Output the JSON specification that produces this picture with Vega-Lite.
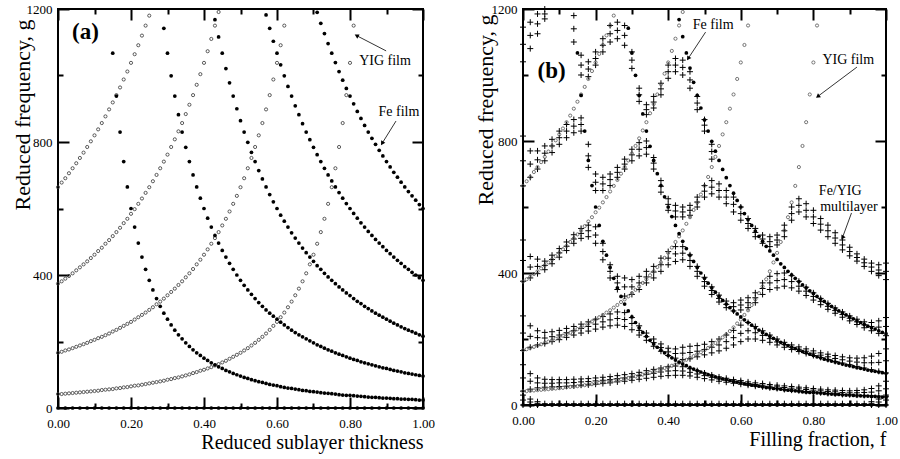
{
"$schema":"https://vega.github.io/schema/vega-lite/v6.json",
"background":"white",
"padding":{"left":9,"top":2,"right":5,"bottom":2},
"spacing":36,
"config":{
 "font":"Liberation Serif",
 "view":{"stroke":"black","strokeWidth":2},
 "axis":{"grid":false,"domain":false,"labelFont":"Liberation Serif","labelFontSize":13,"labelColor":"black","titleFont":"Liberation Serif","titleFontWeight":"normal","titleColor":"black","tickColor":"black","tickWidth":2,"labelFlush":false,"labelOverlap":false}
},
"datasets":{
"notes":[
{"p":"a","t":"(a)","x":0.075,"g":1131},
{"p":"a","t":"YIG film","x":0.896,"g":1044},
{"p":"a","t":"Fe film","x":0.934,"g":890},
{"p":"b","t":"(b)","x":0.079,"g":1012},
{"p":"b","t":"Fe film","x":0.524,"g":1151},
{"p":"b","t":"YIG film","x":0.896,"g":1045},
{"p":"b","t":"Fe/YIG","x":0.874,"g":649},
{"p":"b","t":"multilayer","x":0.898,"g":600}
],
"arrows":[
{"k":"a1","p":"a","x":0.899,"g":1074,"x2":0.818,"g2":1120},
{"k":"a2","p":"a","x":0.926,"g":863,"x2":0.888,"g2":796},
{"k":"b1","p":"b","x":0.503,"g":1130,"x2":0.455,"g2":1050},
{"k":"b2","p":"b","x":0.92,"g":1024,"x2":0.812,"g2":935},
{"k":"b3","p":"b","x":0.905,"g":582,"x2":0.88,"g2":507}
],
"films":[
{"x":0,"g":0,"s":"F0"},{"x":0.02,"g":0,"s":"F0"},{"x":0.04,"g":0,"s":"F0"},{"x":0.06,"g":0,"s":"F0"},{"x":0.08,"g":0,"s":"F0"},{"x":0.1,"g":0,"s":"F0"},{"x":0.12,"g":0,"s":"F0"},{"x":0.14,"g":0,"s":"F0"},{"x":0.16,"g":0,"s":"F0"},{"x":0.18,"g":0,"s":"F0"},{"x":0.2,"g":0,"s":"F0"},{"x":0.22,"g":0,"s":"F0"},{"x":0.24,"g":0,"s":"F0"},{"x":0.26,"g":0,"s":"F0"},{"x":0.28,"g":0,"s":"F0"},{"x":0.3,"g":0,"s":"F0"},{"x":0.32,"g":0,"s":"F0"},{"x":0.34,"g":0,"s":"F0"},{"x":0.36,"g":0,"s":"F0"},{"x":0.38,"g":0,"s":"F0"},{"x":0.4,"g":0,"s":"F0"},{"x":0.42,"g":0,"s":"F0"},{"x":0.44,"g":0,"s":"F0"},{"x":0.46,"g":0,"s":"F0"},{"x":0.48,"g":0,"s":"F0"},{"x":0.5,"g":0,"s":"F0"},{"x":0.52,"g":0,"s":"F0"},{"x":0.54,"g":0,"s":"F0"},{"x":0.56,"g":0,"s":"F0"},{"x":0.58,"g":0,"s":"F0"},{"x":0.6,"g":0,"s":"F0"},{"x":0.62,"g":0,"s":"F0"},{"x":0.64,"g":0,"s":"F0"},{"x":0.66,"g":0,"s":"F0"},{"x":0.68,"g":0,"s":"F0"},{"x":0.7,"g":0,"s":"F0"},{"x":0.72,"g":0,"s":"F0"},{"x":0.74,"g":0,"s":"F0"},{"x":0.76,"g":0,"s":"F0"},{"x":0.78,"g":0,"s":"F0"},{"x":0.8,"g":0,"s":"F0"},{"x":0.82,"g":0,"s":"F0"},{"x":0.84,"g":0,"s":"F0"},{"x":0.86,"g":0,"s":"F0"},{"x":0.88,"g":0,"s":"F0"},{"x":0.9,"g":0,"s":"F0"},{"x":0.92,"g":0,"s":"F0"},{"x":0.94,"g":0,"s":"F0"},{"x":0.96,"g":0,"s":"F0"},{"x":0.98,"g":0,"s":"F0"},{"x":1,"g":0,"s":"F0"},
{"x":0.15,"g":1067,"s":"F1"},{"x":0.16,"g":938,"s":"F1"},{"x":0.17,"g":830,"s":"F1"},{"x":0.18,"g":741,"s":"F1"},{"x":0.19,"g":665,"s":"F1"},{"x":0.2,"g":600,"s":"F1"},{"x":0.21,"g":544,"s":"F1"},{"x":0.22,"g":496,"s":"F1"},{"x":0.23,"g":454,"s":"F1"},{"x":0.24,"g":417,"s":"F1"},{"x":0.25,"g":384,"s":"F1"},{"x":0.26,"g":355,"s":"F1"},{"x":0.27,"g":329,"s":"F1"},{"x":0.28,"g":306,"s":"F1"},{"x":0.29,"g":285,"s":"F1"},{"x":0.3,"g":267,"s":"F1"},{"x":0.31,"g":250,"s":"F1"},{"x":0.32,"g":234,"s":"F1"},{"x":0.33,"g":220,"s":"F1"},{"x":0.34,"g":208,"s":"F1"},{"x":0.35,"g":196,"s":"F1"},{"x":0.36,"g":185,"s":"F1"},{"x":0.37,"g":175,"s":"F1"},{"x":0.38,"g":166,"s":"F1"},{"x":0.39,"g":158,"s":"F1"},{"x":0.4,"g":150,"s":"F1"},{"x":0.41,"g":143,"s":"F1"},{"x":0.42,"g":136,"s":"F1"},{"x":0.43,"g":130,"s":"F1"},{"x":0.44,"g":124,"s":"F1"},{"x":0.45,"g":119,"s":"F1"},{"x":0.46,"g":113,"s":"F1"},{"x":0.47,"g":109,"s":"F1"},{"x":0.48,"g":104,"s":"F1"},{"x":0.49,"g":100,"s":"F1"},{"x":0.5,"g":96,"s":"F1"},{"x":0.51,"g":92,"s":"F1"},{"x":0.52,"g":89,"s":"F1"},{"x":0.53,"g":85,"s":"F1"},{"x":0.54,"g":82,"s":"F1"},{"x":0.55,"g":79,"s":"F1"},{"x":0.56,"g":77,"s":"F1"},{"x":0.57,"g":74,"s":"F1"},{"x":0.58,"g":71,"s":"F1"},{"x":0.59,"g":69,"s":"F1"},{"x":0.6,"g":67,"s":"F1"},{"x":0.61,"g":64,"s":"F1"},{"x":0.62,"g":62,"s":"F1"},{"x":0.63,"g":60,"s":"F1"},{"x":0.64,"g":59,"s":"F1"},{"x":0.65,"g":57,"s":"F1"},{"x":0.66,"g":55,"s":"F1"},{"x":0.67,"g":53,"s":"F1"},{"x":0.68,"g":52,"s":"F1"},{"x":0.69,"g":50,"s":"F1"},{"x":0.7,"g":49,"s":"F1"},{"x":0.71,"g":48,"s":"F1"},{"x":0.72,"g":46,"s":"F1"},{"x":0.73,"g":45,"s":"F1"},{"x":0.74,"g":44,"s":"F1"},{"x":0.75,"g":43,"s":"F1"},{"x":0.76,"g":42,"s":"F1"},{"x":0.77,"g":40,"s":"F1"},{"x":0.78,"g":39,"s":"F1"},{"x":0.79,"g":38,"s":"F1"},{"x":0.8,"g":38,"s":"F1"},{"x":0.81,"g":37,"s":"F1"},{"x":0.82,"g":36,"s":"F1"},{"x":0.83,"g":35,"s":"F1"},{"x":0.84,"g":34,"s":"F1"},{"x":0.85,"g":33,"s":"F1"},{"x":0.86,"g":32,"s":"F1"},{"x":0.87,"g":32,"s":"F1"},{"x":0.88,"g":31,"s":"F1"},{"x":0.89,"g":30,"s":"F1"},{"x":0.9,"g":30,"s":"F1"},{"x":0.91,"g":29,"s":"F1"},{"x":0.92,"g":28,"s":"F1"},{"x":0.93,"g":28,"s":"F1"},{"x":0.94,"g":27,"s":"F1"},{"x":0.95,"g":27,"s":"F1"},{"x":0.96,"g":26,"s":"F1"},{"x":0.97,"g":26,"s":"F1"},{"x":0.98,"g":25,"s":"F1"},{"x":0.99,"g":24,"s":"F1"},{"x":1,"g":24,"s":"F1"},
{"x":0.29,"g":1142,"s":"F2"},{"x":0.3,"g":1067,"s":"F2"},{"x":0.31,"g":999,"s":"F2"},{"x":0.32,"g":938,"s":"F2"},{"x":0.33,"g":882,"s":"F2"},{"x":0.34,"g":830,"s":"F2"},{"x":0.35,"g":784,"s":"F2"},{"x":0.36,"g":741,"s":"F2"},{"x":0.37,"g":701,"s":"F2"},{"x":0.38,"g":665,"s":"F2"},{"x":0.39,"g":631,"s":"F2"},{"x":0.4,"g":600,"s":"F2"},{"x":0.41,"g":571,"s":"F2"},{"x":0.42,"g":544,"s":"F2"},{"x":0.43,"g":519,"s":"F2"},{"x":0.44,"g":496,"s":"F2"},{"x":0.45,"g":474,"s":"F2"},{"x":0.46,"g":454,"s":"F2"},{"x":0.47,"g":435,"s":"F2"},{"x":0.48,"g":417,"s":"F2"},{"x":0.49,"g":400,"s":"F2"},{"x":0.5,"g":384,"s":"F2"},{"x":0.51,"g":369,"s":"F2"},{"x":0.52,"g":355,"s":"F2"},{"x":0.53,"g":342,"s":"F2"},{"x":0.54,"g":329,"s":"F2"},{"x":0.55,"g":317,"s":"F2"},{"x":0.56,"g":306,"s":"F2"},{"x":0.57,"g":295,"s":"F2"},{"x":0.58,"g":285,"s":"F2"},{"x":0.59,"g":276,"s":"F2"},{"x":0.6,"g":267,"s":"F2"},{"x":0.61,"g":258,"s":"F2"},{"x":0.62,"g":250,"s":"F2"},{"x":0.63,"g":242,"s":"F2"},{"x":0.64,"g":234,"s":"F2"},{"x":0.65,"g":227,"s":"F2"},{"x":0.66,"g":220,"s":"F2"},{"x":0.67,"g":214,"s":"F2"},{"x":0.68,"g":208,"s":"F2"},{"x":0.69,"g":202,"s":"F2"},{"x":0.7,"g":196,"s":"F2"},{"x":0.71,"g":190,"s":"F2"},{"x":0.72,"g":185,"s":"F2"},{"x":0.73,"g":180,"s":"F2"},{"x":0.74,"g":175,"s":"F2"},{"x":0.75,"g":171,"s":"F2"},{"x":0.76,"g":166,"s":"F2"},{"x":0.77,"g":162,"s":"F2"},{"x":0.78,"g":158,"s":"F2"},{"x":0.79,"g":154,"s":"F2"},{"x":0.8,"g":150,"s":"F2"},{"x":0.81,"g":146,"s":"F2"},{"x":0.82,"g":143,"s":"F2"},{"x":0.83,"g":139,"s":"F2"},{"x":0.84,"g":136,"s":"F2"},{"x":0.85,"g":133,"s":"F2"},{"x":0.86,"g":130,"s":"F2"},{"x":0.87,"g":127,"s":"F2"},{"x":0.88,"g":124,"s":"F2"},{"x":0.89,"g":121,"s":"F2"},{"x":0.9,"g":119,"s":"F2"},{"x":0.91,"g":116,"s":"F2"},{"x":0.92,"g":113,"s":"F2"},{"x":0.93,"g":111,"s":"F2"},{"x":0.94,"g":109,"s":"F2"},{"x":0.95,"g":106,"s":"F2"},{"x":0.96,"g":104,"s":"F2"},{"x":0.97,"g":102,"s":"F2"},{"x":0.98,"g":100,"s":"F2"},{"x":0.99,"g":98,"s":"F2"},{"x":1,"g":96,"s":"F2"},
{"x":0.43,"g":1168,"s":"F3"},{"x":0.44,"g":1116,"s":"F3"},{"x":0.45,"g":1067,"s":"F3"},{"x":0.46,"g":1021,"s":"F3"},{"x":0.47,"g":978,"s":"F3"},{"x":0.48,"g":938,"s":"F3"},{"x":0.49,"g":900,"s":"F3"},{"x":0.5,"g":864,"s":"F3"},{"x":0.51,"g":830,"s":"F3"},{"x":0.52,"g":799,"s":"F3"},{"x":0.53,"g":769,"s":"F3"},{"x":0.54,"g":741,"s":"F3"},{"x":0.55,"g":714,"s":"F3"},{"x":0.56,"g":689,"s":"F3"},{"x":0.57,"g":665,"s":"F3"},{"x":0.58,"g":642,"s":"F3"},{"x":0.59,"g":620,"s":"F3"},{"x":0.6,"g":600,"s":"F3"},{"x":0.61,"g":580,"s":"F3"},{"x":0.62,"g":562,"s":"F3"},{"x":0.63,"g":544,"s":"F3"},{"x":0.64,"g":527,"s":"F3"},{"x":0.65,"g":511,"s":"F3"},{"x":0.66,"g":496,"s":"F3"},{"x":0.67,"g":481,"s":"F3"},{"x":0.68,"g":467,"s":"F3"},{"x":0.69,"g":454,"s":"F3"},{"x":0.7,"g":441,"s":"F3"},{"x":0.71,"g":428,"s":"F3"},{"x":0.72,"g":417,"s":"F3"},{"x":0.73,"g":405,"s":"F3"},{"x":0.74,"g":394,"s":"F3"},{"x":0.75,"g":384,"s":"F3"},{"x":0.76,"g":374,"s":"F3"},{"x":0.77,"g":364,"s":"F3"},{"x":0.78,"g":355,"s":"F3"},{"x":0.79,"g":346,"s":"F3"},{"x":0.8,"g":338,"s":"F3"},{"x":0.81,"g":329,"s":"F3"},{"x":0.82,"g":321,"s":"F3"},{"x":0.83,"g":314,"s":"F3"},{"x":0.84,"g":306,"s":"F3"},{"x":0.85,"g":299,"s":"F3"},{"x":0.86,"g":292,"s":"F3"},{"x":0.87,"g":285,"s":"F3"},{"x":0.88,"g":279,"s":"F3"},{"x":0.89,"g":273,"s":"F3"},{"x":0.9,"g":267,"s":"F3"},{"x":0.91,"g":261,"s":"F3"},{"x":0.92,"g":255,"s":"F3"},{"x":0.93,"g":250,"s":"F3"},{"x":0.94,"g":244,"s":"F3"},{"x":0.95,"g":239,"s":"F3"},{"x":0.96,"g":234,"s":"F3"},{"x":0.97,"g":230,"s":"F3"},{"x":0.98,"g":225,"s":"F3"},{"x":0.99,"g":220,"s":"F3"},{"x":1,"g":216,"s":"F3"},
{"x":0.57,"g":1182,"s":"F4"},{"x":0.58,"g":1142,"s":"F4"},{"x":0.59,"g":1103,"s":"F4"},{"x":0.6,"g":1067,"s":"F4"},{"x":0.61,"g":1032,"s":"F4"},{"x":0.62,"g":999,"s":"F4"},{"x":0.63,"g":967,"s":"F4"},{"x":0.64,"g":938,"s":"F4"},{"x":0.65,"g":909,"s":"F4"},{"x":0.66,"g":882,"s":"F4"},{"x":0.67,"g":855,"s":"F4"},{"x":0.68,"g":830,"s":"F4"},{"x":0.69,"g":807,"s":"F4"},{"x":0.7,"g":784,"s":"F4"},{"x":0.71,"g":762,"s":"F4"},{"x":0.72,"g":741,"s":"F4"},{"x":0.73,"g":721,"s":"F4"},{"x":0.74,"g":701,"s":"F4"},{"x":0.75,"g":683,"s":"F4"},{"x":0.76,"g":665,"s":"F4"},{"x":0.77,"g":648,"s":"F4"},{"x":0.78,"g":631,"s":"F4"},{"x":0.79,"g":615,"s":"F4"},{"x":0.8,"g":600,"s":"F4"},{"x":0.81,"g":585,"s":"F4"},{"x":0.82,"g":571,"s":"F4"},{"x":0.83,"g":557,"s":"F4"},{"x":0.84,"g":544,"s":"F4"},{"x":0.85,"g":531,"s":"F4"},{"x":0.86,"g":519,"s":"F4"},{"x":0.87,"g":507,"s":"F4"},{"x":0.88,"g":496,"s":"F4"},{"x":0.89,"g":485,"s":"F4"},{"x":0.9,"g":474,"s":"F4"},{"x":0.91,"g":464,"s":"F4"},{"x":0.92,"g":454,"s":"F4"},{"x":0.93,"g":444,"s":"F4"},{"x":0.94,"g":435,"s":"F4"},{"x":0.95,"g":425,"s":"F4"},{"x":0.96,"g":417,"s":"F4"},{"x":0.97,"g":408,"s":"F4"},{"x":0.98,"g":400,"s":"F4"},{"x":0.99,"g":392,"s":"F4"},{"x":1,"g":384,"s":"F4"},
{"x":0.71,"g":1190,"s":"F5"},{"x":0.72,"g":1157,"s":"F5"},{"x":0.73,"g":1126,"s":"F5"},{"x":0.74,"g":1096,"s":"F5"},{"x":0.75,"g":1067,"s":"F5"},{"x":0.76,"g":1039,"s":"F5"},{"x":0.77,"g":1012,"s":"F5"},{"x":0.78,"g":986,"s":"F5"},{"x":0.79,"g":961,"s":"F5"},{"x":0.8,"g":938,"s":"F5"},{"x":0.81,"g":915,"s":"F5"},{"x":0.82,"g":892,"s":"F5"},{"x":0.83,"g":871,"s":"F5"},{"x":0.84,"g":850,"s":"F5"},{"x":0.85,"g":830,"s":"F5"},{"x":0.86,"g":811,"s":"F5"},{"x":0.87,"g":793,"s":"F5"},{"x":0.88,"g":775,"s":"F5"},{"x":0.89,"g":758,"s":"F5"},{"x":0.9,"g":741,"s":"F5"},{"x":0.91,"g":725,"s":"F5"},{"x":0.92,"g":709,"s":"F5"},{"x":0.93,"g":694,"s":"F5"},{"x":0.94,"g":679,"s":"F5"},{"x":0.95,"g":665,"s":"F5"},{"x":0.96,"g":651,"s":"F5"},{"x":0.97,"g":638,"s":"F5"},{"x":0.98,"g":625,"s":"F5"},{"x":0.99,"g":612,"s":"F5"},{"x":1,"g":600,"s":"F5"},
{"x":0,"g":42,"s":"Y1"},{"x":0.01,"g":42,"s":"Y1"},{"x":0.02,"g":43,"s":"Y1"},{"x":0.03,"g":44,"s":"Y1"},{"x":0.04,"g":45,"s":"Y1"},{"x":0.05,"g":46,"s":"Y1"},{"x":0.06,"g":47,"s":"Y1"},{"x":0.07,"g":48,"s":"Y1"},{"x":0.08,"g":49,"s":"Y1"},{"x":0.09,"g":50,"s":"Y1"},{"x":0.1,"g":51,"s":"Y1"},{"x":0.11,"g":52,"s":"Y1"},{"x":0.12,"g":54,"s":"Y1"},{"x":0.13,"g":55,"s":"Y1"},{"x":0.14,"g":56,"s":"Y1"},{"x":0.15,"g":57,"s":"Y1"},{"x":0.16,"g":59,"s":"Y1"},{"x":0.17,"g":60,"s":"Y1"},{"x":0.18,"g":62,"s":"Y1"},{"x":0.19,"g":63,"s":"Y1"},{"x":0.2,"g":65,"s":"Y1"},{"x":0.21,"g":67,"s":"Y1"},{"x":0.22,"g":68,"s":"Y1"},{"x":0.23,"g":70,"s":"Y1"},{"x":0.24,"g":72,"s":"Y1"},{"x":0.25,"g":74,"s":"Y1"},{"x":0.26,"g":76,"s":"Y1"},{"x":0.27,"g":78,"s":"Y1"},{"x":0.28,"g":80,"s":"Y1"},{"x":0.29,"g":82,"s":"Y1"},{"x":0.3,"g":85,"s":"Y1"},{"x":0.31,"g":87,"s":"Y1"},{"x":0.32,"g":90,"s":"Y1"},{"x":0.33,"g":92,"s":"Y1"},{"x":0.34,"g":95,"s":"Y1"},{"x":0.35,"g":98,"s":"Y1"},{"x":0.36,"g":101,"s":"Y1"},{"x":0.37,"g":105,"s":"Y1"},{"x":0.38,"g":108,"s":"Y1"},{"x":0.39,"g":112,"s":"Y1"},{"x":0.4,"g":115,"s":"Y1"},{"x":0.41,"g":119,"s":"Y1"},{"x":0.42,"g":123,"s":"Y1"},{"x":0.43,"g":128,"s":"Y1"},{"x":0.44,"g":132,"s":"Y1"},{"x":0.45,"g":137,"s":"Y1"},{"x":0.46,"g":142,"s":"Y1"},{"x":0.47,"g":148,"s":"Y1"},{"x":0.48,"g":154,"s":"Y1"},{"x":0.49,"g":160,"s":"Y1"},{"x":0.5,"g":166,"s":"Y1"},{"x":0.51,"g":173,"s":"Y1"},{"x":0.52,"g":180,"s":"Y1"},{"x":0.53,"g":188,"s":"Y1"},{"x":0.54,"g":196,"s":"Y1"},{"x":0.55,"g":205,"s":"Y1"},{"x":0.56,"g":214,"s":"Y1"},{"x":0.57,"g":224,"s":"Y1"},{"x":0.58,"g":235,"s":"Y1"},{"x":0.59,"g":247,"s":"Y1"},{"x":0.6,"g":259,"s":"Y1"},{"x":0.61,"g":273,"s":"Y1"},{"x":0.62,"g":287,"s":"Y1"},{"x":0.63,"g":303,"s":"Y1"},{"x":0.64,"g":320,"s":"Y1"},{"x":0.65,"g":339,"s":"Y1"},{"x":0.66,"g":359,"s":"Y1"},{"x":0.67,"g":381,"s":"Y1"},{"x":0.68,"g":405,"s":"Y1"},{"x":0.69,"g":432,"s":"Y1"},{"x":0.7,"g":461,"s":"Y1"},{"x":0.71,"g":494,"s":"Y1"},{"x":0.72,"g":529,"s":"Y1"},{"x":0.73,"g":569,"s":"Y1"},{"x":0.74,"g":614,"s":"Y1"},{"x":0.75,"g":664,"s":"Y1"},{"x":0.76,"g":721,"s":"Y1"},{"x":0.77,"g":785,"s":"Y1"},{"x":0.78,"g":857,"s":"Y1"},{"x":0.79,"g":941,"s":"Y1"},{"x":0.8,"g":1038,"s":"Y1"},{"x":0.81,"g":1150,"s":"Y1"},
{"x":0,"g":166,"s":"Y2"},{"x":0.01,"g":169,"s":"Y2"},{"x":0.02,"g":173,"s":"Y2"},{"x":0.03,"g":176,"s":"Y2"},{"x":0.04,"g":180,"s":"Y2"},{"x":0.05,"g":184,"s":"Y2"},{"x":0.06,"g":188,"s":"Y2"},{"x":0.07,"g":192,"s":"Y2"},{"x":0.08,"g":196,"s":"Y2"},{"x":0.09,"g":201,"s":"Y2"},{"x":0.1,"g":205,"s":"Y2"},{"x":0.11,"g":210,"s":"Y2"},{"x":0.12,"g":214,"s":"Y2"},{"x":0.13,"g":219,"s":"Y2"},{"x":0.14,"g":224,"s":"Y2"},{"x":0.15,"g":230,"s":"Y2"},{"x":0.16,"g":235,"s":"Y2"},{"x":0.17,"g":241,"s":"Y2"},{"x":0.18,"g":247,"s":"Y2"},{"x":0.19,"g":253,"s":"Y2"},{"x":0.2,"g":259,"s":"Y2"},{"x":0.21,"g":266,"s":"Y2"},{"x":0.22,"g":273,"s":"Y2"},{"x":0.23,"g":280,"s":"Y2"},{"x":0.24,"g":287,"s":"Y2"},{"x":0.25,"g":295,"s":"Y2"},{"x":0.26,"g":303,"s":"Y2"},{"x":0.27,"g":312,"s":"Y2"},{"x":0.28,"g":320,"s":"Y2"},{"x":0.29,"g":329,"s":"Y2"},{"x":0.3,"g":339,"s":"Y2"},{"x":0.31,"g":349,"s":"Y2"},{"x":0.32,"g":359,"s":"Y2"},{"x":0.33,"g":370,"s":"Y2"},{"x":0.34,"g":381,"s":"Y2"},{"x":0.35,"g":393,"s":"Y2"},{"x":0.36,"g":405,"s":"Y2"},{"x":0.37,"g":418,"s":"Y2"},{"x":0.38,"g":432,"s":"Y2"},{"x":0.39,"g":446,"s":"Y2"},{"x":0.4,"g":461,"s":"Y2"},{"x":0.41,"g":477,"s":"Y2"},{"x":0.42,"g":494,"s":"Y2"},{"x":0.43,"g":511,"s":"Y2"},{"x":0.44,"g":529,"s":"Y2"},{"x":0.45,"g":549,"s":"Y2"},{"x":0.46,"g":569,"s":"Y2"},{"x":0.47,"g":591,"s":"Y2"},{"x":0.48,"g":614,"s":"Y2"},{"x":0.49,"g":638,"s":"Y2"},{"x":0.5,"g":664,"s":"Y2"},{"x":0.51,"g":691,"s":"Y2"},{"x":0.52,"g":721,"s":"Y2"},{"x":0.53,"g":752,"s":"Y2"},{"x":0.54,"g":785,"s":"Y2"},{"x":0.55,"g":820,"s":"Y2"},{"x":0.56,"g":857,"s":"Y2"},{"x":0.57,"g":898,"s":"Y2"},{"x":0.58,"g":941,"s":"Y2"},{"x":0.59,"g":988,"s":"Y2"},{"x":0.6,"g":1038,"s":"Y2"},{"x":0.61,"g":1091,"s":"Y2"},{"x":0.62,"g":1150,"s":"Y2"},
{"x":0,"g":374,"s":"Y3"},{"x":0.01,"g":381,"s":"Y3"},{"x":0.02,"g":389,"s":"Y3"},{"x":0.03,"g":397,"s":"Y3"},{"x":0.04,"g":405,"s":"Y3"},{"x":0.05,"g":414,"s":"Y3"},{"x":0.06,"g":423,"s":"Y3"},{"x":0.07,"g":432,"s":"Y3"},{"x":0.08,"g":441,"s":"Y3"},{"x":0.09,"g":451,"s":"Y3"},{"x":0.1,"g":461,"s":"Y3"},{"x":0.11,"g":472,"s":"Y3"},{"x":0.12,"g":482,"s":"Y3"},{"x":0.13,"g":494,"s":"Y3"},{"x":0.14,"g":505,"s":"Y3"},{"x":0.15,"g":517,"s":"Y3"},{"x":0.16,"g":529,"s":"Y3"},{"x":0.17,"g":542,"s":"Y3"},{"x":0.18,"g":556,"s":"Y3"},{"x":0.19,"g":569,"s":"Y3"},{"x":0.2,"g":584,"s":"Y3"},{"x":0.21,"g":598,"s":"Y3"},{"x":0.22,"g":614,"s":"Y3"},{"x":0.23,"g":630,"s":"Y3"},{"x":0.24,"g":647,"s":"Y3"},{"x":0.25,"g":664,"s":"Y3"},{"x":0.26,"g":682,"s":"Y3"},{"x":0.27,"g":701,"s":"Y3"},{"x":0.28,"g":721,"s":"Y3"},{"x":0.29,"g":741,"s":"Y3"},{"x":0.3,"g":762,"s":"Y3"},{"x":0.31,"g":785,"s":"Y3"},{"x":0.32,"g":808,"s":"Y3"},{"x":0.33,"g":832,"s":"Y3"},{"x":0.34,"g":857,"s":"Y3"},{"x":0.35,"g":884,"s":"Y3"},{"x":0.36,"g":912,"s":"Y3"},{"x":0.37,"g":941,"s":"Y3"},{"x":0.38,"g":972,"s":"Y3"},{"x":0.39,"g":1004,"s":"Y3"},{"x":0.4,"g":1038,"s":"Y3"},{"x":0.41,"g":1073,"s":"Y3"},{"x":0.42,"g":1110,"s":"Y3"},{"x":0.43,"g":1150,"s":"Y3"},{"x":0.44,"g":1191,"s":"Y3"},
{"x":0,"g":664,"s":"Y4"},{"x":0.01,"g":678,"s":"Y4"},{"x":0.02,"g":691,"s":"Y4"},{"x":0.03,"g":706,"s":"Y4"},{"x":0.04,"g":721,"s":"Y4"},{"x":0.05,"g":736,"s":"Y4"},{"x":0.06,"g":752,"s":"Y4"},{"x":0.07,"g":768,"s":"Y4"},{"x":0.08,"g":785,"s":"Y4"},{"x":0.09,"g":802,"s":"Y4"},{"x":0.1,"g":820,"s":"Y4"},{"x":0.11,"g":838,"s":"Y4"},{"x":0.12,"g":857,"s":"Y4"},{"x":0.13,"g":877,"s":"Y4"},{"x":0.14,"g":898,"s":"Y4"},{"x":0.15,"g":919,"s":"Y4"},{"x":0.16,"g":941,"s":"Y4"},{"x":0.17,"g":964,"s":"Y4"},{"x":0.18,"g":988,"s":"Y4"},{"x":0.19,"g":1012,"s":"Y4"},{"x":0.2,"g":1038,"s":"Y4"},{"x":0.21,"g":1064,"s":"Y4"},{"x":0.22,"g":1091,"s":"Y4"},{"x":0.23,"g":1120,"s":"Y4"},{"x":0.24,"g":1150,"s":"Y4"},{"x":0.25,"g":1180,"s":"Y4"}
],
"ml":[
{"x":0,"g":0},{"x":0,"g":15},{"x":0,"g":30},{"x":0.02,"g":0},{"x":0.02,"g":9},{"x":0.02,"g":18},{"x":0.04,"g":0},{"x":0.04,"g":5},{"x":0.04,"g":10},
{"x":0.06,"g":4},{"x":0.08,"g":4},{"x":0.1,"g":4},{"x":0.12,"g":4},{"x":0.14,"g":4},{"x":0.16,"g":4},{"x":0.18,"g":4},{"x":0.2,"g":4},{"x":0.22,"g":4},{"x":0.24,"g":4},{"x":0.26,"g":4},{"x":0.28,"g":4},{"x":0.3,"g":4},{"x":0.32,"g":4},{"x":0.34,"g":4},{"x":0.36,"g":4},{"x":0.38,"g":4},{"x":0.4,"g":4},{"x":0.42,"g":4},{"x":0.44,"g":4},{"x":0.46,"g":4},{"x":0.48,"g":4},{"x":0.5,"g":4},{"x":0.52,"g":4},{"x":0.54,"g":4},{"x":0.56,"g":4},{"x":0.58,"g":4},{"x":0.6,"g":4},{"x":0.62,"g":4},{"x":0.64,"g":4},{"x":0.66,"g":4},{"x":0.68,"g":4},{"x":0.7,"g":4},{"x":0.72,"g":4},{"x":0.74,"g":4},{"x":0.76,"g":4},{"x":0.78,"g":4},{"x":0.8,"g":4},{"x":0.82,"g":4},{"x":0.84,"g":4},{"x":0.86,"g":4},{"x":0.88,"g":4},{"x":0.9,"g":4},{"x":0.92,"g":4},{"x":0.94,"g":4},
{"x":0.96,"g":0},{"x":0.96,"g":5},{"x":0.96,"g":10},{"x":0.98,"g":0},{"x":0.98,"g":9},{"x":0.98,"g":18},{"x":1,"g":0},{"x":1,"g":15},{"x":1,"g":30},
{"x":0,"g":42},{"x":0,"g":82},{"x":0,"g":122},{"x":0.02,"g":48},{"x":0.02,"g":72},{"x":0.02,"g":95},{"x":0.04,"g":52},{"x":0.04,"g":67},{"x":0.04,"g":82},{"x":0.06,"g":54},{"x":0.06,"g":66},{"x":0.06,"g":78},{"x":0.08,"g":55},{"x":0.08,"g":66},{"x":0.08,"g":77},{"x":0.1,"g":56},{"x":0.1,"g":67},{"x":0.1,"g":77},{"x":0.12,"g":57},{"x":0.12,"g":67},{"x":0.12,"g":77},{"x":0.14,"g":58},{"x":0.14,"g":68},{"x":0.14,"g":78},{"x":0.16,"g":60},{"x":0.16,"g":70},{"x":0.16,"g":79},{"x":0.18,"g":61},{"x":0.18,"g":71},{"x":0.18,"g":80},{"x":0.2,"g":63},{"x":0.2,"g":73},{"x":0.2,"g":82},{"x":0.22,"g":65},{"x":0.22,"g":75},{"x":0.22,"g":84},{"x":0.24,"g":67},{"x":0.24,"g":77},{"x":0.24,"g":86},{"x":0.26,"g":70},{"x":0.26,"g":80},{"x":0.26,"g":89},{"x":0.28,"g":72},{"x":0.28,"g":82},{"x":0.28,"g":92},{"x":0.3,"g":75},{"x":0.3,"g":85},{"x":0.3,"g":95},{"x":0.32,"g":78},{"x":0.32,"g":89},{"x":0.32,"g":99},{"x":0.34,"g":81},{"x":0.34,"g":93},{"x":0.34,"g":104},{"x":0.36,"g":84},{"x":0.36,"g":96},{"x":0.36,"g":108},{"x":0.38,"g":87},{"x":0.38,"g":100},{"x":0.38,"g":112},{"x":0.4,"g":89},{"x":0.4,"g":103},{"x":0.4,"g":116},{"x":0.42,"g":90},{"x":0.42,"g":104},{"x":0.42,"g":118},{"x":0.44,"g":90},{"x":0.44,"g":103},{"x":0.44,"g":116},{"x":0.46,"g":88},{"x":0.46,"g":99},{"x":0.46,"g":110},{"x":0.48,"g":84},{"x":0.48,"g":94},{"x":0.48,"g":104},{"x":0.5,"g":80},{"x":0.5,"g":89},{"x":0.5,"g":97},{"x":0.52,"g":76},{"x":0.52,"g":84},{"x":0.52,"g":91},{"x":0.54,"g":72},{"x":0.54,"g":79},{"x":0.54,"g":85},{"x":0.56,"g":69},{"x":0.56,"g":75},{"x":0.56,"g":81},{"x":0.58,"g":66},{"x":0.58,"g":72},{"x":0.58,"g":77},{"x":0.6,"g":63},{"x":0.6,"g":69},{"x":0.6,"g":74},{"x":0.62,"g":60},{"x":0.62,"g":65},{"x":0.62,"g":70},{"x":0.64,"g":57},{"x":0.64,"g":62},{"x":0.64,"g":67},{"x":0.66,"g":55},{"x":0.66,"g":60},{"x":0.66,"g":65},{"x":0.68,"g":52},{"x":0.68,"g":57},{"x":0.68,"g":62},{"x":0.7,"g":50},{"x":0.7,"g":55},{"x":0.7,"g":60},{"x":0.72,"g":47},{"x":0.72,"g":53},{"x":0.72,"g":58},{"x":0.74,"g":45},{"x":0.74,"g":51},{"x":0.74,"g":56},{"x":0.76,"g":43},{"x":0.76,"g":49},{"x":0.76,"g":54},{"x":0.78,"g":41},{"x":0.78,"g":47},{"x":0.78,"g":52},{"x":0.8,"g":39},{"x":0.8,"g":45},{"x":0.8,"g":50},{"x":0.82,"g":37},{"x":0.82,"g":43},{"x":0.82,"g":48},{"x":0.84,"g":35},{"x":0.84,"g":41},{"x":0.84,"g":46},{"x":0.86,"g":34},{"x":0.86,"g":40},{"x":0.86,"g":45},{"x":0.88,"g":32},{"x":0.88,"g":38},{"x":0.88,"g":44},{"x":0.9,"g":31},{"x":0.9,"g":37},{"x":0.9,"g":43},{"x":0.92,"g":30},{"x":0.92,"g":37},{"x":0.92,"g":44},{"x":0.94,"g":29},{"x":0.94,"g":38},{"x":0.94,"g":46},{"x":0.96,"g":28},{"x":0.96,"g":39},{"x":0.96,"g":50},{"x":0.98,"g":27},{"x":0.98,"g":43},{"x":0.98,"g":58},{"x":1,"g":25},{"x":1,"g":49},{"x":1,"g":72},
{"x":0,"g":165},{"x":0,"g":218},{"x":0,"g":270},{"x":0.02,"g":175},{"x":0.02,"g":208},{"x":0.02,"g":240},{"x":0.04,"g":182},{"x":0.04,"g":204},{"x":0.04,"g":225},{"x":0.06,"g":186},{"x":0.06,"g":203},{"x":0.06,"g":220},{"x":0.08,"g":192},{"x":0.08,"g":207},{"x":0.08,"g":222},{"x":0.1,"g":198},{"x":0.1,"g":212},{"x":0.1,"g":226},{"x":0.12,"g":205},{"x":0.12,"g":219},{"x":0.12,"g":232},{"x":0.14,"g":212},{"x":0.14,"g":225},{"x":0.14,"g":238},{"x":0.16,"g":218},{"x":0.16,"g":232},{"x":0.16,"g":245},{"x":0.18,"g":224},{"x":0.18,"g":238},{"x":0.18,"g":252},{"x":0.2,"g":230},{"x":0.2,"g":245},{"x":0.2,"g":260},{"x":0.22,"g":236},{"x":0.22,"g":252},{"x":0.22,"g":268},{"x":0.24,"g":240},{"x":0.24,"g":258},{"x":0.24,"g":276},{"x":0.26,"g":242},{"x":0.26,"g":262},{"x":0.26,"g":282},{"x":0.28,"g":238},{"x":0.28,"g":259},{"x":0.28,"g":280},{"x":0.3,"g":228},{"x":0.3,"g":247},{"x":0.3,"g":265},{"x":0.32,"g":212},{"x":0.32,"g":226},{"x":0.32,"g":240},{"x":0.34,"g":196},{"x":0.34,"g":207},{"x":0.34,"g":218},{"x":0.36,"g":178},{"x":0.36,"g":189},{"x":0.36,"g":200},{"x":0.38,"g":163},{"x":0.38,"g":174},{"x":0.38,"g":185},{"x":0.4,"g":150},{"x":0.4,"g":161},{"x":0.4,"g":172},{"x":0.42,"g":142},{"x":0.42,"g":156},{"x":0.42,"g":170},{"x":0.44,"g":138},{"x":0.44,"g":157},{"x":0.44,"g":175},{"x":0.46,"g":140},{"x":0.46,"g":159},{"x":0.46,"g":178},{"x":0.48,"g":146},{"x":0.48,"g":163},{"x":0.48,"g":180},{"x":0.5,"g":152},{"x":0.5,"g":168},{"x":0.5,"g":184},{"x":0.52,"g":158},{"x":0.52,"g":175},{"x":0.52,"g":192},{"x":0.54,"g":164},{"x":0.54,"g":182},{"x":0.54,"g":200},{"x":0.56,"g":172},{"x":0.56,"g":192},{"x":0.56,"g":212},{"x":0.58,"g":182},{"x":0.58,"g":204},{"x":0.58,"g":226},{"x":0.6,"g":192},{"x":0.6,"g":217},{"x":0.6,"g":242},{"x":0.62,"g":200},{"x":0.62,"g":225},{"x":0.62,"g":250},{"x":0.64,"g":200},{"x":0.64,"g":219},{"x":0.64,"g":238},{"x":0.66,"g":196},{"x":0.66,"g":211},{"x":0.66,"g":225},{"x":0.68,"g":190},{"x":0.68,"g":201},{"x":0.68,"g":212},{"x":0.7,"g":182},{"x":0.7,"g":191},{"x":0.7,"g":200},{"x":0.72,"g":175},{"x":0.72,"g":183},{"x":0.72,"g":190},{"x":0.74,"g":168},{"x":0.74,"g":175},{"x":0.74,"g":182},{"x":0.76,"g":162},{"x":0.76,"g":169},{"x":0.76,"g":176},{"x":0.78,"g":156},{"x":0.78,"g":163},{"x":0.78,"g":170},{"x":0.8,"g":150},{"x":0.8,"g":157},{"x":0.8,"g":164},{"x":0.82,"g":144},{"x":0.82,"g":151},{"x":0.82,"g":158},{"x":0.84,"g":138},{"x":0.84,"g":146},{"x":0.84,"g":154},{"x":0.86,"g":132},{"x":0.86,"g":141},{"x":0.86,"g":150},{"x":0.88,"g":127},{"x":0.88,"g":137},{"x":0.88,"g":146},{"x":0.9,"g":122},{"x":0.9,"g":133},{"x":0.9,"g":143},{"x":0.92,"g":117},{"x":0.92,"g":130},{"x":0.92,"g":142},{"x":0.94,"g":112},{"x":0.94,"g":128},{"x":0.94,"g":143},{"x":0.96,"g":107},{"x":0.96,"g":128},{"x":0.96,"g":148},{"x":0.98,"g":102},{"x":0.98,"g":129},{"x":0.98,"g":156},{"x":1,"g":97},{"x":1,"g":134},{"x":1,"g":170},
{"x":0,"g":375},{"x":0,"g":438},{"x":0,"g":500},{"x":0.02,"g":385},{"x":0.02,"g":418},{"x":0.02,"g":450},{"x":0.04,"g":398},{"x":0.04,"g":420},{"x":0.04,"g":442},{"x":0.06,"g":410},{"x":0.06,"g":423},{"x":0.06,"g":436},{"x":0.08,"g":428},{"x":0.08,"g":441},{"x":0.08,"g":454},{"x":0.1,"g":448},{"x":0.1,"g":461},{"x":0.1,"g":474},{"x":0.12,"g":468},{"x":0.12,"g":481},{"x":0.12,"g":494},{"x":0.14,"g":490},{"x":0.14,"g":503},{"x":0.14,"g":516},{"x":0.16,"g":505},{"x":0.16,"g":520},{"x":0.16,"g":535},{"x":0.18,"g":510},{"x":0.18,"g":528},{"x":0.18,"g":545},{"x":0.2,"g":490},{"x":0.2,"g":515},{"x":0.2,"g":540},{"x":0.22,"g":440},{"x":0.22,"g":465},{"x":0.22,"g":490},{"x":0.24,"g":385},{"x":0.24,"g":405},{"x":0.24,"g":425},{"x":0.26,"g":350},{"x":0.26,"g":370},{"x":0.26,"g":390},{"x":0.28,"g":330},{"x":0.28,"g":358},{"x":0.28,"g":385},{"x":0.3,"g":335},{"x":0.3,"g":358},{"x":0.3,"g":380},{"x":0.32,"g":350},{"x":0.32,"g":370},{"x":0.32,"g":390},{"x":0.34,"g":370},{"x":0.34,"g":388},{"x":0.34,"g":405},{"x":0.36,"g":385},{"x":0.36,"g":403},{"x":0.36,"g":420},{"x":0.38,"g":405},{"x":0.38,"g":425},{"x":0.38,"g":445},{"x":0.4,"g":425},{"x":0.4,"g":445},{"x":0.4,"g":465},{"x":0.42,"g":435},{"x":0.42,"g":458},{"x":0.42,"g":480},{"x":0.44,"g":440},{"x":0.44,"g":460},{"x":0.44,"g":480},{"x":0.46,"g":420},{"x":0.46,"g":438},{"x":0.46,"g":455},{"x":0.48,"g":390},{"x":0.48,"g":405},{"x":0.48,"g":420},{"x":0.5,"g":360},{"x":0.5,"g":374},{"x":0.5,"g":387},{"x":0.52,"g":335},{"x":0.52,"g":347},{"x":0.52,"g":358},{"x":0.54,"g":312},{"x":0.54,"g":323},{"x":0.54,"g":333},{"x":0.56,"g":295},{"x":0.56,"g":305},{"x":0.56,"g":315},{"x":0.58,"g":285},{"x":0.58,"g":298},{"x":0.58,"g":310},{"x":0.6,"g":288},{"x":0.6,"g":303},{"x":0.6,"g":318},{"x":0.62,"g":295},{"x":0.62,"g":310},{"x":0.62,"g":325},{"x":0.64,"g":310},{"x":0.64,"g":325},{"x":0.64,"g":340},{"x":0.66,"g":335},{"x":0.66,"g":353},{"x":0.66,"g":370},{"x":0.68,"g":350},{"x":0.68,"g":370},{"x":0.68,"g":390},{"x":0.7,"g":355},{"x":0.7,"g":377},{"x":0.7,"g":398},{"x":0.72,"g":360},{"x":0.72,"g":380},{"x":0.72,"g":400},{"x":0.74,"g":355},{"x":0.74,"g":374},{"x":0.74,"g":392},{"x":0.76,"g":345},{"x":0.76,"g":360},{"x":0.76,"g":375},{"x":0.78,"g":332},{"x":0.78,"g":345},{"x":0.78,"g":357},{"x":0.8,"g":318},{"x":0.8,"g":329},{"x":0.8,"g":340},{"x":0.82,"g":304},{"x":0.82,"g":314},{"x":0.82,"g":323},{"x":0.84,"g":290},{"x":0.84,"g":299},{"x":0.84,"g":308},{"x":0.86,"g":278},{"x":0.86,"g":286},{"x":0.86,"g":294},{"x":0.88,"g":266},{"x":0.88,"g":274},{"x":0.88,"g":282},{"x":0.9,"g":255},{"x":0.9,"g":263},{"x":0.9,"g":270},{"x":0.92,"g":244},{"x":0.92,"g":252},{"x":0.92,"g":260},{"x":0.94,"g":234},{"x":0.94,"g":243},{"x":0.94,"g":252},{"x":0.96,"g":225},{"x":0.96,"g":238},{"x":0.96,"g":250},{"x":0.98,"g":217},{"x":0.98,"g":236},{"x":0.98,"g":255},{"x":1,"g":210},{"x":1,"g":238},{"x":1,"g":265},
{"x":0,"g":664},{"x":0,"g":740},{"x":0,"g":815},{"x":0.02,"g":690},{"x":0.02,"g":730},{"x":0.02,"g":770},{"x":0.04,"g":715},{"x":0.04,"g":743},{"x":0.04,"g":770},{"x":0.06,"g":740},{"x":0.06,"g":763},{"x":0.06,"g":785},{"x":0.08,"g":765},{"x":0.08,"g":785},{"x":0.08,"g":805},{"x":0.1,"g":790},{"x":0.1,"g":810},{"x":0.1,"g":830},{"x":0.12,"g":810},{"x":0.12,"g":830},{"x":0.12,"g":850},{"x":0.14,"g":825},{"x":0.14,"g":845},{"x":0.14,"g":865},{"x":0.16,"g":830},{"x":0.16,"g":850},{"x":0.16,"g":870},{"x":0.18,"g":720},{"x":0.18,"g":755},{"x":0.18,"g":790},{"x":0.2,"g":650},{"x":0.2,"g":675},{"x":0.2,"g":700},{"x":0.22,"g":650},{"x":0.22,"g":670},{"x":0.22,"g":690},{"x":0.24,"g":665},{"x":0.24,"g":683},{"x":0.24,"g":700},{"x":0.26,"g":690},{"x":0.26,"g":705},{"x":0.26,"g":720},{"x":0.28,"g":715},{"x":0.28,"g":730},{"x":0.28,"g":745},{"x":0.3,"g":740},{"x":0.3,"g":758},{"x":0.3,"g":775},{"x":0.32,"g":755},{"x":0.32,"g":775},{"x":0.32,"g":795},{"x":0.34,"g":760},{"x":0.34,"g":780},{"x":0.34,"g":800},{"x":0.36,"g":715},{"x":0.36,"g":733},{"x":0.36,"g":750},{"x":0.38,"g":645},{"x":0.38,"g":663},{"x":0.38,"g":680},{"x":0.4,"g":590},{"x":0.4,"g":608},{"x":0.4,"g":625},{"x":0.42,"g":570},{"x":0.42,"g":588},{"x":0.42,"g":605},{"x":0.44,"g":570},{"x":0.44,"g":585},{"x":0.44,"g":600},{"x":0.46,"g":575},{"x":0.46,"g":590},{"x":0.46,"g":605},{"x":0.48,"g":600},{"x":0.48,"g":615},{"x":0.48,"g":630},{"x":0.5,"g":630},{"x":0.5,"g":648},{"x":0.5,"g":665},{"x":0.52,"g":640},{"x":0.52,"g":660},{"x":0.52,"g":680},{"x":0.54,"g":630},{"x":0.54,"g":650},{"x":0.54,"g":670},{"x":0.56,"g":610},{"x":0.56,"g":630},{"x":0.56,"g":650},{"x":0.58,"g":585},{"x":0.58,"g":608},{"x":0.58,"g":630},{"x":0.6,"g":560},{"x":0.6,"g":580},{"x":0.6,"g":600},{"x":0.62,"g":535},{"x":0.62,"g":550},{"x":0.62,"g":565},{"x":0.64,"g":510},{"x":0.64,"g":523},{"x":0.64,"g":535},{"x":0.66,"g":490},{"x":0.66,"g":503},{"x":0.66,"g":515},{"x":0.68,"g":480},{"x":0.68,"g":495},{"x":0.68,"g":510},{"x":0.7,"g":485},{"x":0.7,"g":500},{"x":0.7,"g":515},{"x":0.72,"g":510},{"x":0.72,"g":528},{"x":0.72,"g":545},{"x":0.74,"g":560},{"x":0.74,"g":580},{"x":0.74,"g":600},{"x":0.76,"g":585},{"x":0.76,"g":605},{"x":0.76,"g":625},{"x":0.78,"g":570},{"x":0.78,"g":590},{"x":0.78,"g":610},{"x":0.8,"g":550},{"x":0.8,"g":570},{"x":0.8,"g":590},{"x":0.82,"g":530},{"x":0.82,"g":548},{"x":0.82,"g":565},{"x":0.84,"g":510},{"x":0.84,"g":528},{"x":0.84,"g":545},{"x":0.86,"g":490},{"x":0.86,"g":506},{"x":0.86,"g":522},{"x":0.88,"g":470},{"x":0.88,"g":485},{"x":0.88,"g":500},{"x":0.9,"g":452},{"x":0.9,"g":465},{"x":0.9,"g":478},{"x":0.92,"g":436},{"x":0.92,"g":447},{"x":0.92,"g":458},{"x":0.94,"g":420},{"x":0.94,"g":431},{"x":0.94,"g":442},{"x":0.96,"g":405},{"x":0.96,"g":418},{"x":0.96,"g":430},{"x":0.98,"g":392},{"x":0.98,"g":409},{"x":0.98,"g":425},{"x":1,"g":380},{"x":1,"g":405},{"x":1,"g":430},
{"x":0,"g":1040},{"x":0,"g":1093},{"x":0,"g":1145},{"x":0.02,"g":1080},{"x":0.02,"g":1120},{"x":0.02,"g":1160},{"x":0.04,"g":1125},{"x":0.04,"g":1155},{"x":0.04,"g":1185},{"x":0.06,"g":1170},{"x":0.06,"g":1185},{"x":0.06,"g":1200},{"x":0.14,"g":1100},{"x":0.14,"g":1140},{"x":0.14,"g":1180},{"x":0.16,"g":1000},{"x":0.16,"g":1030},{"x":0.16,"g":1060},{"x":0.18,"g":995},{"x":0.18,"g":1018},{"x":0.18,"g":1040},{"x":0.2,"g":1030},{"x":0.2,"g":1050},{"x":0.2,"g":1070},{"x":0.22,"g":1070},{"x":0.22,"g":1090},{"x":0.22,"g":1110},{"x":0.24,"g":1100},{"x":0.24,"g":1125},{"x":0.24,"g":1150},{"x":0.26,"g":1110},{"x":0.26,"g":1135},{"x":0.26,"g":1160},{"x":0.28,"g":1090},{"x":0.28,"g":1120},{"x":0.28,"g":1150},{"x":0.3,"g":1020},{"x":0.3,"g":1045},{"x":0.3,"g":1070},{"x":0.32,"g":920},{"x":0.32,"g":940},{"x":0.32,"g":960},{"x":0.34,"g":880},{"x":0.34,"g":895},{"x":0.34,"g":910},{"x":0.36,"g":900},{"x":0.36,"g":918},{"x":0.36,"g":935},{"x":0.38,"g":940},{"x":0.38,"g":958},{"x":0.38,"g":975},{"x":0.4,"g":990},{"x":0.4,"g":1010},{"x":0.4,"g":1030},{"x":0.42,"g":1010},{"x":0.42,"g":1030},{"x":0.42,"g":1050},{"x":0.44,"g":1000},{"x":0.44,"g":1023},{"x":0.44,"g":1045},{"x":0.46,"g":960},{"x":0.46,"g":985},{"x":0.46,"g":1010},{"x":0.48,"g":895},{"x":0.48,"g":915},{"x":0.48,"g":935},{"x":0.5,"g":830},{"x":0.5,"g":848},{"x":0.5,"g":865},{"x":0.52,"g":745},{"x":0.52,"g":768},{"x":0.52,"g":790}
]
},
"hconcat":[
{
"width":365,"height":399,
"resolve":{"axis":{"x":"independent","y":"independent"}},
"layer":[
{"data":{"name":"films"},"transform":[{"filter":"indexof(datum.s,'Y')==0"}],
 "mark":{"type":"point","shape":"circle","filled":false,"color":"#333","strokeWidth":0.8,"size":10,"opacity":1},
 "encoding":{
  "x":{"field":"x","type":"quantitative","scale":{"domain":[0,1],"nice":false,"zero":false},
   "axis":{"orient":"bottom","values":[0,0.2,0.4,0.6,0.8,1],"format":".2f","labelFont":"Liberation Serif","tickSize":-11,"labelPadding":20,"title":"Reduced sublayer thickness","titleFont":"Liberation Serif","titleFontSize":20,"titleX":365,"titleY":40,"titleAlign":"right","titleBaseline":"alphabetic"}},
  "y":{"field":"g","type":"quantitative","scale":{"domain":[0,1200],"nice":false},
   "axis":{"orient":"left","values":[0,400,800,1200],"format":"d","labelFont":"Liberation Serif","tickSize":-11,"labelPadding":17,"title":"Reduced frequency, g","titleFont":"Liberation Serif","titleFontSize":22,"titleX":-36,"titleY":10,"titleAngle":-90,"titleAlign":"right","titleBaseline":"middle"}}}},
{"data":{"name":"films"},"transform":[{"filter":"indexof(datum.s,'F')==0"}],
 "mark":{"type":"circle","color":"black","size":14,"opacity":1},
 "encoding":{
  "x":{"field":"x","type":"quantitative","scale":{"domain":[0,1],"nice":false,"zero":false},"axis":{"orient":"bottom","values":[0.1,0.3,0.5,0.7,0.9],"tickSize":-5,"labels":false,"title":null}},
  "y":{"field":"g","type":"quantitative","scale":{"domain":[0,1200],"nice":false},"axis":{"orient":"left","values":[200,600,1000],"tickSize":-5,"labels":false,"title":null}}}},
{"data":{"name":"arrows"},"transform":[{"filter":"datum.p=='a'"}],
 "mark":{"type":"rule","color":"black","strokeWidth":0.8},
 "encoding":{
  "x":{"field":"x","type":"quantitative","scale":{"domain":[0,1],"nice":false,"zero":false},"axis":{"orient":"top","values":[0,0.2,0.4,0.6,0.8,1],"tickSize":-11,"labels":false,"title":null}},
  "y":{"field":"g","type":"quantitative","scale":{"domain":[0,1200],"nice":false},"axis":{"orient":"right","values":[0,400,800,1200],"tickSize":-11,"labels":false,"title":null}},
  "x2":{"field":"x2"},"y2":{"field":"g2"}}},
{"data":{"name":"notes"},"transform":[{"filter":"datum.p=='a' && datum.t!='(a)'"}],
 "mark":{"type":"text","fontSize":14,"font":"Liberation Serif","color":"black"},
 "encoding":{
  "x":{"field":"x","type":"quantitative","scale":{"domain":[0,1],"nice":false,"zero":false},"axis":{"orient":"top","values":[0.1,0.3,0.5,0.7,0.9],"tickSize":-5,"labels":false,"title":null}},
  "y":{"field":"g","type":"quantitative","scale":{"domain":[0,1200],"nice":false},"axis":{"orient":"right","values":[200,600,1000],"tickSize":-5,"labels":false,"title":null}},
  "text":{"field":"t"}}},
{"data":{"name":"notes"},"transform":[{"filter":"datum.t=='(a)'"}],
 "mark":{"type":"text","fontSize":23,"fontWeight":"bold","font":"Liberation Serif","color":"black"},
 "encoding":{"x":{"field":"x","type":"quantitative","axis":null},"y":{"field":"g","type":"quantitative","axis":null},"text":{"field":"t"}}},
{"data":{"name":"arrows"},"transform":[{"filter":"datum.k=='a1'"}],
 "mark":{"type":"point","shape":"triangle-up","filled":true,"color":"black","size":24,"angle":298,"opacity":1},
 "encoding":{"x":{"field":"x2","type":"quantitative","axis":null},"y":{"field":"g2","type":"quantitative","axis":null}}},
{"data":{"name":"arrows"},"transform":[{"filter":"datum.k=='a2'"}],
 "mark":{"type":"point","shape":"triangle-up","filled":true,"color":"black","size":24,"angle":211,"opacity":1},
 "encoding":{"x":{"field":"x2","type":"quantitative","axis":null},"y":{"field":"g2","type":"quantitative","axis":null}}}
]
},
{
"width":363,"height":396,
"resolve":{"axis":{"x":"independent","y":"independent"}},
"layer":[
{"data":{"name":"ml"},
 "mark":{"type":"point","shape":"M-1,0L1,0M0,-1L0,1","filled":false,"color":"black","strokeWidth":1,"size":36,"opacity":1},
 "encoding":{
  "x":{"field":"x","type":"quantitative","scale":{"domain":[0,1],"nice":false,"zero":false},
   "axis":{"orient":"bottom","values":[0,0.2,0.4,0.6,0.8,1],"format":".2f","labelFont":"Liberation Serif","tickSize":-11,"labelPadding":20,"title":"Filling fraction, f","titleFont":"Liberation Serif","titleFontSize":20,"titleX":363,"titleY":40,"titleAlign":"right","titleBaseline":"alphabetic"}},
  "y":{"field":"g","type":"quantitative","scale":{"domain":[0,1200],"nice":false},
   "axis":{"orient":"left","values":[0,400,800,1200],"format":"d","labelFont":"Liberation Serif","tickSize":-11,"labelPadding":17,"title":"Reduced frequency, g","titleFont":"Liberation Serif","titleFontSize":22,"titleX":-38,"titleY":5,"titleAngle":-90,"titleAlign":"right","titleBaseline":"middle"}}}},
{"data":{"name":"films"},"transform":[{"filter":"indexof(datum.s,'Y')==0"}],
 "mark":{"type":"point","shape":"circle","filled":false,"color":"#555","strokeWidth":0.8,"size":10,"opacity":1},
 "encoding":{
  "x":{"field":"x","type":"quantitative","scale":{"domain":[0,1],"nice":false,"zero":false},"axis":{"orient":"bottom","values":[0.1,0.3,0.5,0.7,0.9],"tickSize":-5,"labels":false,"title":null}},
  "y":{"field":"g","type":"quantitative","scale":{"domain":[0,1200],"nice":false},"axis":{"orient":"left","values":[200,600,1000],"tickSize":-5,"labels":false,"title":null}}}},
{"data":{"name":"films"},"transform":[{"filter":"datum.s=='F0'||datum.s=='F1'||datum.s=='F2'||datum.s=='F3'"}],
 "mark":{"type":"circle","color":"black","size":14,"opacity":1},
 "encoding":{
  "x":{"field":"x","type":"quantitative","scale":{"domain":[0,1],"nice":false,"zero":false},"axis":{"orient":"top","values":[0,0.2,0.4,0.6,0.8,1],"tickSize":-11,"labels":false,"title":null}},
  "y":{"field":"g","type":"quantitative","scale":{"domain":[0,1200],"nice":false},"axis":{"orient":"right","values":[0,400,800,1200],"tickSize":-11,"labels":false,"title":null}}}},
{"data":{"name":"arrows"},"transform":[{"filter":"datum.p=='b'"}],
 "mark":{"type":"rule","color":"black","strokeWidth":0.8},
 "encoding":{
  "x":{"field":"x","type":"quantitative","scale":{"domain":[0,1],"nice":false,"zero":false},"axis":{"orient":"top","values":[0.1,0.3,0.5,0.7,0.9],"tickSize":-5,"labels":false,"title":null}},
  "y":{"field":"g","type":"quantitative","scale":{"domain":[0,1200],"nice":false},"axis":{"orient":"right","values":[200,600,1000],"tickSize":-5,"labels":false,"title":null}},
  "x2":{"field":"x2"},"y2":{"field":"g2"}}},
{"data":{"name":"notes"},"transform":[{"filter":"datum.p=='b' && datum.t!='(b)'"}],
 "mark":{"type":"text","fontSize":14,"font":"Liberation Serif","color":"black"},
 "encoding":{"x":{"field":"x","type":"quantitative","axis":null},"y":{"field":"g","type":"quantitative","axis":null},"text":{"field":"t"}}},
{"data":{"name":"notes"},"transform":[{"filter":"datum.t=='(b)'"}],
 "mark":{"type":"text","fontSize":23,"fontWeight":"bold","font":"Liberation Serif","color":"black"},
 "encoding":{"x":{"field":"x","type":"quantitative","axis":null},"y":{"field":"g","type":"quantitative","axis":null},"text":{"field":"t"}}},
{"data":{"name":"arrows"},"transform":[{"filter":"datum.k=='b2'"}],
 "mark":{"type":"point","shape":"triangle-up","filled":true,"color":"black","size":24,"angle":233,"opacity":1},
 "encoding":{"x":{"field":"x2","type":"quantitative","axis":null},"y":{"field":"g2","type":"quantitative","axis":null}}},
{"data":{"name":"arrows"},"transform":[{"filter":"datum.k=='b1'||datum.k=='b3'"}],
 "mark":{"type":"point","shape":"triangle-up","filled":true,"color":"black","size":24,"angle":212,"opacity":1},
 "encoding":{"x":{"field":"x2","type":"quantitative","axis":null},"y":{"field":"g2","type":"quantitative","axis":null}}}
]
}
]
}
